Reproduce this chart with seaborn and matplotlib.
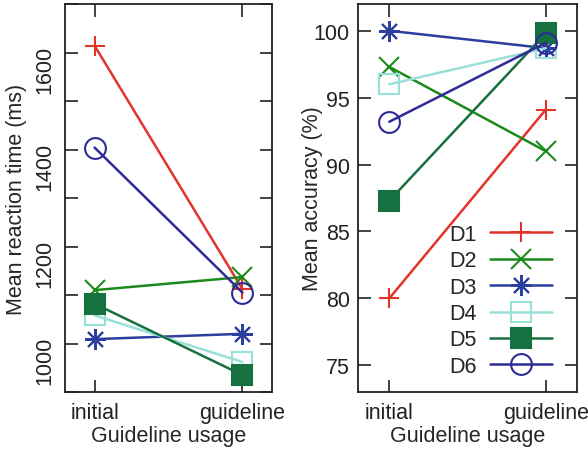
import pandas as pd
import matplotlib
matplotlib.use("Agg")
import matplotlib.pyplot as plt
from matplotlib.ticker import MultipleLocator
import seaborn as sns

stages = ["initial", "guideline"]
designs = ["D1", "D2", "D3", "D4", "D5", "D6"]

# mean reaction time (ms) per design, initial / guideline
rt_initial = [1614, 1110, 1009, 1058, 1082, 1404]
rt_guideline = [1112, 1137, 1020, 962, 935, 1105]

# mean accuracy (%) per design, initial / guideline
acc_initial = [80.0, 97.3, 100.0, 96.0, 87.3, 93.2]
acc_guideline = [94.1, 91.0, 98.7, 98.7, 99.8, 99.1]

colors = {"D1": "#e3342a", "D2": "#1b8a1b", "D3": "#2c3e9e",
          "D4": "#98e0d8", "D5": "#16703f", "D6": "#2d2b96"}
markers = {"D1": "+", "D2": "x", "D3": (8, 2, 0),
           "D4": "s", "D5": "s", "D6": "o"}
open_markers = ["D4", "D6"]

rows = []
for i, d in enumerate(designs):
    rows.append({"design": d, "stage": stages[0], "rt": rt_initial[i], "acc": acc_initial[i]})
    rows.append({"design": d, "stage": stages[1], "rt": rt_guideline[i], "acc": acc_guideline[i]})
df = pd.DataFrame(rows)

sns.set_theme(style="ticks")
plt.rcParams["font.family"] = ["Liberation Sans", "DejaVu Sans"]
fs = 15.5

fig = plt.figure(figsize=(5.88, 4.52), dpi=100)
ax1 = fig.add_axes([65 / 588, 1 - 393 / 452, 207 / 588, 388 / 452])
ax2 = fig.add_axes([358 / 588, 1 - 393 / 452, 219 / 588, 388 / 452])

for d in designs:
    sub = df[df["design"] == d]
    c = colors[d]
    mfc = "none" if d in open_markers else c
    for ax, col in ((ax1, "rt"), (ax2, "acc")):
        sns.lineplot(data=sub, x="stage", y=col, ax=ax, color=c, marker=markers[d],
                     markersize=15, markeredgecolor=c, markerfacecolor=mfc,
                     markeredgewidth=1.5, linewidth=1.8, label=d, legend=False)

for ax in (ax1, ax2):
    ax.set_xlim(-0.2, 1.2)
    ax.tick_params(which="both", direction="in", length=9, width=1.2,
                   top=True, right=True, labelsize=fs, colors="#222222")
    ax.tick_params(axis="x", pad=7)
    for s in ax.spines.values():
        s.set_linewidth(1.3)
        s.set_color("#222222")
    ax.set_xlabel("Guideline usage", fontsize=fs)
    ax.xaxis.set_label_coords(0.5, -0.085)
    if ax.get_legend() is not None:
        ax.get_legend().remove()

ax1.set_ylim(900, 1700)
ax1.yaxis.set_major_locator(MultipleLocator(200))
ax1.yaxis.set_minor_locator(MultipleLocator(100))
ax1.tick_params(axis="y", labelrotation=90, pad=7)
ax1.set_ylabel("Mean reaction time (ms)", fontsize=fs)
ax1.yaxis.set_label_coords(-0.184, 0.5)

ax2.set_ylim(73, 102)
ax2.yaxis.set_major_locator(MultipleLocator(5))
ax2.tick_params(axis="y", pad=6)
ax2.set_ylabel("Mean accuracy (%)", fontsize=fs)
ax2.yaxis.set_label_coords(-0.16, 0.5)

handles, labels = ax2.get_legend_handles_labels()
ax2.legend(handles, labels, loc="lower right", bbox_to_anchor=(0.886, 0.039),
           markerfirst=False, frameon=False, fontsize=fs, handlelength=2.9,
           handletextpad=0.6, labelspacing=0.25, borderaxespad=0, borderpad=0)

fig.savefig("out.png", dpi=100)
